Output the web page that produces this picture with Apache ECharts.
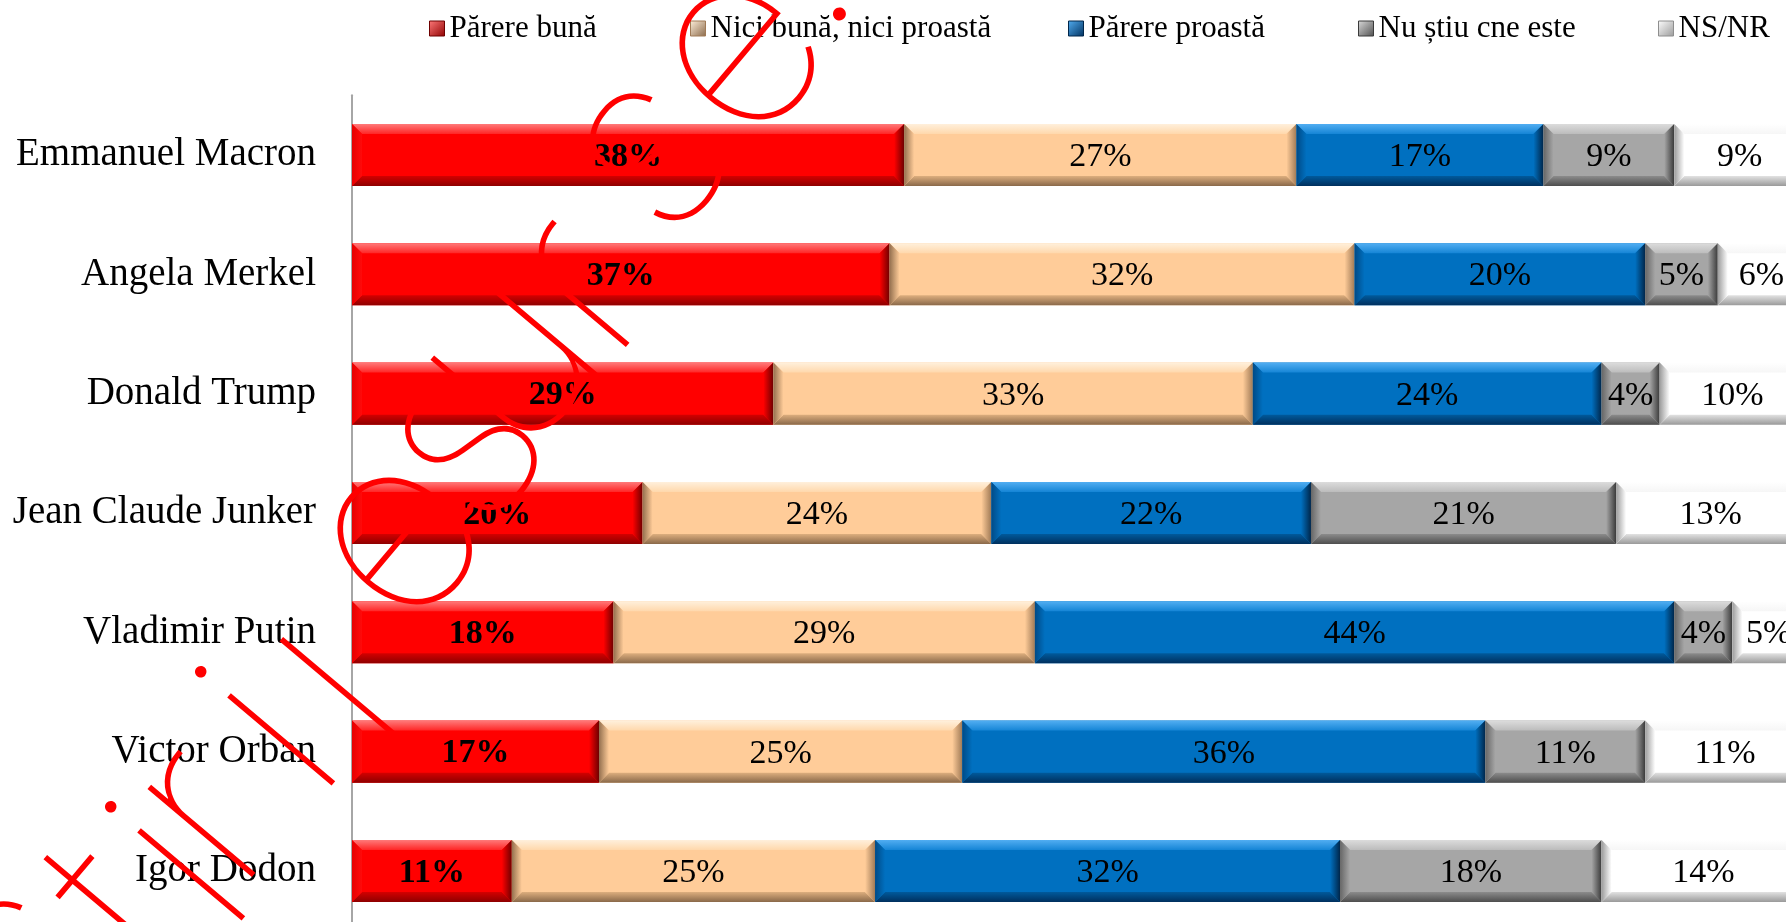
<!DOCTYPE html>
<html><head><meta charset="utf-8">
<script src="https://cdn.jsdelivr.net/npm/echarts@6/dist/echarts.min.js"></script>
<style>html,body{margin:0;padding:0;background:#fff}#c{width:1786px;height:922px}</style>
</head><body><div id="c"></div>
<script>
// ---- data ----
const categories = ['Emmanuel Macron','Angela Merkel','Donald Trump','Jean Claude Junker','Vladimir Putin','Victor Orban','Igor Dodon'];
const seriesNames = ['Părere bună','Nici bună, nici proastă','Părere proastă','Nu știu cne este','NS/NR'];
const parereBuna = [38,37,29,20,18,17,11];
const niciBunaNiciProasta = [27,32,33,24,29,25,25];
const parereProasta = [17,20,24,22,44,36,32];
const nuStiu = [9,5,4,21,4,11,18];
const nsnr = [9,6,10,13,5,11,14];
const watermarkText = 'știrilesurse.';

// ---- styles / layout ----
const palettes = [
  {base:'#FF0000', top:['#FF7A7A','#FF2626'], bottom:['#D40000','#8E0000'], left:['#E60000','#FF0A0A'], right:['#FF0000','#6E0000']},
  {base:'#FFCC99', top:['#FFF0DC','#FFD8AC'], bottom:['#DDAE7E','#8A694A'], left:['#94704F','#FFCC99'], right:['#FFCC99','#A07A56']},
  {base:'#0070C0', top:['#52AEF2','#1585D6'], bottom:['#005A9C','#00305E'], left:['#004A86','#0070C0'], right:['#0070C0','#00264A']},
  {base:'#A6A6A6', top:['#DCDCDC','#BCBCBC'], bottom:['#8C8C8C','#4E4E4E'], left:['#666666','#A6A6A6'], right:['#A6A6A6','#3A3A3A']},
  {base:'#FFFFFF', top:['#FFFFFF','#F6F6F6'], bottom:['#E2E2E2','#9A9A9A'], left:['#9C9C9C','#FFFFFF'], right:['#FFFFFF','#8E8E8E']}
];
const legendLefts = [429, 690, 1068, 1358, 1658];
// watermark glyph anchor points (layout only)
const wmPoints = [[19,960],[121,913],[186,870],[205,816],[276,735],[363,708],[397,537],[464,442],[509,362],[579,286],[649,152],[739,52],[786,-31]];
const wmAngle = Math.atan2(890, 751);

const allValues = [parereBuna, niciBunaNiciProasta, parereProasta, nuStiu, nsnr];

function lg(x1,y1,x2,y2,c0,c1){
  return new echarts.graphic.LinearGradient(x1,y1,x2,y2,[{offset:0,color:c0},{offset:1,color:c1}]);
}
function makeRender(pal, bold){
  return function(params, api){
    const s = api.value(0), e = api.value(1), c = api.value(2), v = api.value(3);
    const p0 = api.coord([s, c]), p1 = api.coord([e, c]);
    const bh = api.size([0,1])[1] * 0.52;
    const x0 = p0[0], x1 = p1[0], y0 = p0[1]-bh/2, y1 = p0[1]+bh/2;
    const w = x1 - x0, b = 10, bb = Math.min(b, w/2);
    return {type:'group', children:[
      {type:'rect', shape:{x:x0,y:y0,width:w,height:bh}, style:{fill:pal.base}},
      {type:'polygon', shape:{points:[[x0,y0],[x1,y0],[x1-bb,y0+b],[x0+bb,y0+b]]}, style:{fill:lg(0,0,0,1,pal.top[0],pal.top[1])}},
      {type:'polygon', shape:{points:[[x0+bb,y1-b],[x1-bb,y1-b],[x1,y1],[x0,y1]]}, style:{fill:lg(0,0,0,1,pal.bottom[0],pal.bottom[1])}},
      {type:'polygon', shape:{points:[[x0,y0],[x0+bb,y0+b],[x0+bb,y1-b],[x0,y1]]}, style:{fill:lg(0,0,1,0,pal.left[0],pal.left[1])}},
      {type:'polygon', shape:{points:[[x1-bb,y0+b],[x1,y0],[x1,y1],[x1-bb,y1-b]]}, style:{fill:lg(0,0,1,0,pal.right[0],pal.right[1])}},
      {type:'text', x:(x0+x1)/2, y:p0[1]+2, z2:10, style:{text:v+'%', fill:'#000', align:'center', verticalAlign:'middle',
        font:(bold?'bold ':'')+'34px "Liberation Serif"'}}
    ]};
  };
}

const series = allValues.map(function(vals, si){
  const data = vals.map(function(v, ci){
    let start = 0;
    for (let k = 0; k < si; k++) start += allValues[k][ci];
    return [start, start + v, ci, v];
  });
  return {
    type:'custom', name:seriesNames[si], renderItem:makeRender(palettes[si], si===0),
    encode:{x:[0,1], y:2}, data:data, itemStyle:{color:palettes[si].base}, clip:false, animation:false
  };
});

const legends = seriesNames.map(function(n, i){
  const p = palettes[i];
  return {
    data:[{name:n, icon:'rect', itemStyle:{color:lg(0,0,1,1,p.top[0],p.bottom[1]), borderColor:p.right[1], borderWidth:1}}],
    left:legendLefts[i], top:13, padding:0, itemWidth:15, itemHeight:15, itemGap:0, selectedMode:false,
    textStyle:{fontFamily:'Liberation Serif', fontSize:31, color:'#000'}
  };
});

const wmGlyphs = watermarkText.split('').map(function(ch, i){
  return {type:'text', x:wmPoints[i][0], y:wmPoints[i][1], rotation:wmAngle, z:100, silent:true,
    style:{text:ch, font:'125 250px Inter', fill:'#FF0000', align:'center', verticalAlign:'middle'}};
});

const chart = echarts.init(document.getElementById('c'), null, {renderer:'canvas'});
chart.setOption({
  animation:false,
  backgroundColor:'#ffffff',
  legend:legends,
  grid:{left:352, top:95.3, width:1453, height:835.3, containLabel:false, outerBoundsMode:'none'},
  xAxis:{type:'value', min:0, max:100, show:false},
  yAxis:{type:'category', data:categories, inverse:true,
    axisLine:{show:true, lineStyle:{color:'#A6A6A6', width:2}},
    axisTick:{show:false}, splitLine:{show:false},
    axisLabel:{interval:0, margin:36, color:'#000', fontFamily:'Liberation Serif', fontSize:39}},
  series:series,
  graphic:wmGlyphs
});
</script></body></html>
